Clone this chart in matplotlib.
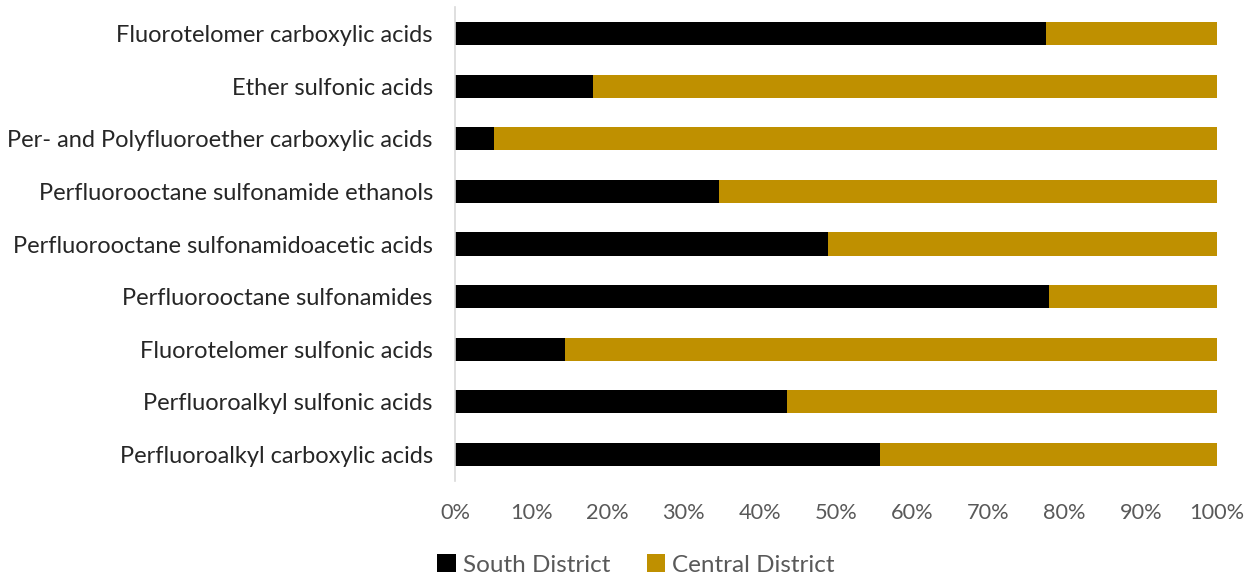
import matplotlib
matplotlib.use("Agg")
import matplotlib.pyplot as plt
from matplotlib.ticker import PercentFormatter

categories = [
    "Fluorotelomer carboxylic acids",
    "Ether sulfonic acids",
    "Per- and Polyfluoroether carboxylic acids",
    "Perfluorooctane sulfonamide ethanols",
    "Perfluorooctane sulfonamidoacetic acids",
    "Perfluorooctane sulfonamides",
    "Fluorotelomer sulfonic acids",
    "Perfluoroalkyl sulfonic acids",
    "Perfluoroalkyl carboxylic acids",
]
south = [77.6, 18.1, 5.1, 34.6, 49.0, 78.0, 14.4, 43.6, 55.8]
central = [100 - v for v in south]
xticks = [0, 10, 20, 30, 40, 50, 60, 70, 80, 90, 100]

plt.rcParams['font.family'] = ['Lato', 'DejaVu Sans']

fig = plt.figure(figsize=(12.57, 5.8), dpi=100)
top_px, bot_px = 7.2, 480.8
ax = fig.add_axes([455/1257, 1 - bot_px/580, (1217 - 455)/1257, (bot_px - top_px)/580])

ypos = list(range(len(categories)))[::-1]
h = 0.44
ax.barh(ypos, south, height=h, color="#000000", label="South District")
ax.barh(ypos, central, left=south, height=h, color="#BF9000", label="Central District")

ax.set_ylim(-0.5, len(categories) - 0.5)
ax.set_xlim(0, 100)
ax.set_yticks(ypos)
ax.set_yticklabels(categories, fontsize=17, color="#262626")
ax.set_xticks(xticks)
ax.xaxis.set_major_formatter(PercentFormatter(decimals=0))
ax.tick_params(axis='x', length=0, pad=16, labelsize=15.7, labelcolor="#595959")
ax.tick_params(axis='y', length=0, pad=16)
for s in ["top", "right", "bottom"]:
    ax.spines[s].set_visible(False)
ax.spines["left"].set_color("#D9D9D9")
ax.spines["left"].set_linewidth(1.2)
ax.spines["left"].set_bounds(-0.5, len(categories) - 0.5)

fig.legend(loc="center", bbox_to_anchor=(636/1257, 1 - 565/580), ncol=2, frameon=False,
           fontsize=17.5, labelcolor="#595959", handlelength=0.75, handleheight=0.75,
           handletextpad=0.3, columnspacing=1.5)

fig.savefig("out.png", dpi=100)
